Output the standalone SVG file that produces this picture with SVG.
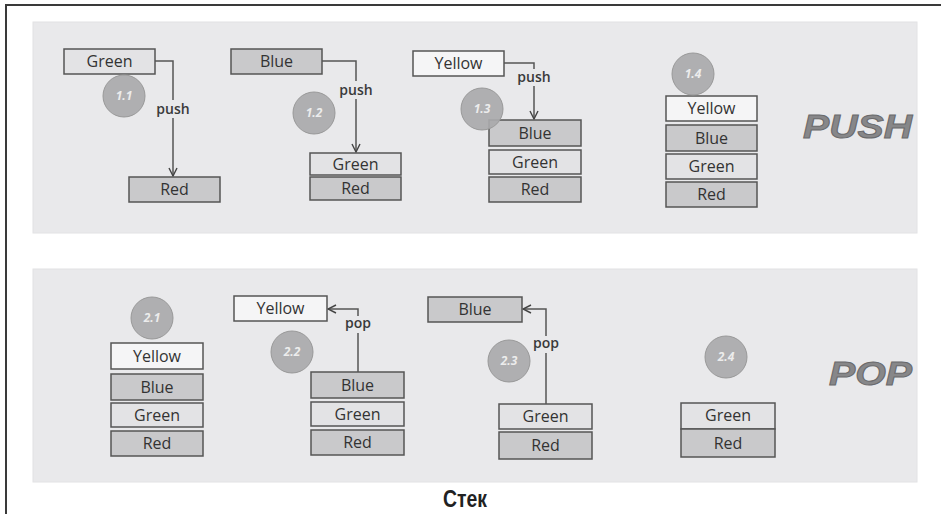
<svg xmlns="http://www.w3.org/2000/svg" width="941" height="514" viewBox="0 0 941 514">
  <defs>
    <marker id="vee" viewBox="0 0 10 10" refX="9" refY="5" markerWidth="10" markerHeight="10" markerUnits="userSpaceOnUse" orient="auto">
      <path d="M1,1 L9,5 L1,9" fill="none" stroke="#444" stroke-width="1.4"/>
    </marker>
  </defs>
  <style>
    .panel { fill: #e9e9eb; stroke: #e2e2e4; stroke-width: 1; }
    .box rect { stroke: #555; stroke-width: 1.5; }
    .box text { font-family: "Open Sans", "Noto Sans", sans-serif; font-size: 16px; fill: #333; text-anchor: middle; }
    .c-red rect, .c-blue rect { fill: #c9c9cb; }
    .c-green rect { fill: #e3e3e5; }
    .c-yellow rect { fill: #f5f5f6; }
    .badge circle { fill: #a9a9ab; stroke: #999; stroke-width: 1; fill-opacity: 0.92; }
    .badge text { font-family: "Open Sans", "Noto Sans", sans-serif; font-size: 12px; font-style: italic; font-weight: bold; fill: #ececec; text-anchor: middle; }
    .edge { fill: none; stroke: #555; stroke-width: 1.5; }
    .elabel { font-family: "Open Sans", "Noto Sans", sans-serif; font-size: 14px; font-weight: 600; fill: #3a3a3a; text-anchor: middle; }
    .lblbg { fill: #e9e9eb; }
    .big { font-family: "Liberation Sans", Arial, sans-serif; font-size: 34px; font-weight: bold; font-style: italic; fill: #878789; stroke: #6a6a6c; stroke-width: 1; }
  </style>

  <!-- frame -->
  <rect x="0" y="0" width="941" height="514" fill="#ffffff"/>
  <line x1="6" y1="5" x2="941" y2="5" stroke="#3a3a3a" stroke-width="2"/>
  <line x1="6" y1="4" x2="6" y2="514" stroke="#3a3a3a" stroke-width="2"/>

  <!-- panels -->
  <rect class="panel" x="33" y="22" width="884" height="211"/>
  <rect class="panel" x="33" y="269" width="884" height="213"/>

  <!-- connectors -->
  <g id="connectors">
    <path class="edge" d="M155,61 H173 V176" marker-end="url(#vee)"/>
    <rect class="lblbg" x="156" y="100" width="34" height="18"/>
    <text class="elabel" x="173" y="114">push</text>

    <path class="edge" d="M322,61 H356 V152" marker-end="url(#vee)"/>
    <rect class="lblbg" x="339" y="81" width="34" height="18"/>
    <text class="elabel" x="356" y="95">push</text>

    <path class="edge" d="M504,63 H534 V119" marker-end="url(#vee)"/>
    <rect class="lblbg" x="517" y="69" width="34" height="17"/>
    <text class="elabel" x="534" y="82">push</text>

    <path class="edge" d="M358,372 V309 H328" marker-end="url(#vee)"/>
    <rect class="lblbg" x="344" y="316" width="28" height="17"/>
    <text class="elabel" x="358" y="328">pop</text>

    <path class="edge" d="M546,404 V309 H523" marker-end="url(#vee)"/>
    <rect class="lblbg" x="532" y="336" width="28" height="17"/>
    <text class="elabel" x="546" y="348">pop</text>
  </g>

  <!-- step 1.1 -->
  <g id="n11-green" class="box c-green"><rect x="64" y="49" width="91" height="25"/><text x="109.5" y="67">Green</text></g>
  <g id="n11-red" class="box c-red"><rect x="129" y="177" width="91" height="25"/><text x="174.5" y="195">Red</text></g>
  <g id="b11" class="badge"><circle cx="124" cy="96" r="21"/><text x="124" y="100">1.1</text></g>

  <!-- step 1.2 -->
  <g id="n12-blue" class="box c-blue"><rect x="231" y="49" width="91" height="25"/><text x="276.5" y="67">Blue</text></g>
  <g id="n12-green" class="box c-green"><rect x="310" y="153" width="91" height="22"/><text x="355.5" y="170">Green</text></g>
  <g id="n12-red" class="box c-red"><rect x="310" y="177" width="91" height="23"/><text x="355.5" y="194">Red</text></g>
  <g id="b12" class="badge"><circle cx="314" cy="113" r="21"/><text x="314" y="117">1.2</text></g>

  <!-- step 1.3 -->
  <g id="n13-yellow" class="box c-yellow"><rect x="413" y="51" width="91" height="25"/><text x="458.5" y="69">Yellow</text></g>
  <g id="n13-blue" class="box c-blue"><rect x="489" y="120" width="92" height="26"/><text x="535" y="139">Blue</text></g>
  <g id="n13-green" class="box c-green"><rect x="489" y="150" width="92" height="24"/><text x="535" y="168">Green</text></g>
  <g id="n13-red" class="box c-red"><rect x="489" y="177" width="92" height="25"/><text x="535" y="195">Red</text></g>
  <g id="b13" class="badge"><circle cx="482" cy="109" r="21"/><text x="482" y="113">1.3</text></g>

  <!-- step 1.4 -->
  <g id="n14-yellow" class="box c-yellow"><rect x="666" y="96" width="91" height="25"/><text x="711.5" y="114">Yellow</text></g>
  <g id="n14-blue" class="box c-blue"><rect x="666" y="125" width="91" height="26"/><text x="711.5" y="144">Blue</text></g>
  <g id="n14-green" class="box c-green"><rect x="666" y="154" width="91" height="25"/><text x="711.5" y="172">Green</text></g>
  <g id="n14-red" class="box c-red"><rect x="666" y="182" width="91" height="25"/><text x="711.5" y="200">Red</text></g>
  <g id="b14" class="badge"><circle cx="693" cy="74" r="21"/><text x="693" y="78">1.4</text></g>

  <text class="big" x="803" y="138" textLength="109" lengthAdjust="spacingAndGlyphs">PUSH</text>

  <!-- step 2.1 -->
  <g id="n21-yellow" class="box c-yellow"><rect x="111" y="343" width="92" height="26"/><text x="157" y="362">Yellow</text></g>
  <g id="n21-blue" class="box c-blue"><rect x="111" y="374" width="92" height="26"/><text x="157" y="393">Blue</text></g>
  <g id="n21-green" class="box c-green"><rect x="111" y="403" width="92" height="24"/><text x="157" y="421">Green</text></g>
  <g id="n21-red" class="box c-red"><rect x="111" y="431" width="92" height="25"/><text x="157" y="449">Red</text></g>
  <g id="b21" class="badge"><circle cx="152" cy="318" r="21"/><text x="152" y="322">2.1</text></g>

  <!-- step 2.2 -->
  <g id="n22-yellow" class="box c-yellow"><rect x="234" y="296" width="93" height="25"/><text x="280.5" y="314">Yellow</text></g>
  <g id="n22-blue" class="box c-blue"><rect x="311" y="372" width="93" height="26"/><text x="357.5" y="391">Blue</text></g>
  <g id="n22-green" class="box c-green"><rect x="311" y="402" width="93" height="24"/><text x="357.5" y="420">Green</text></g>
  <g id="n22-red" class="box c-red"><rect x="311" y="430" width="93" height="25"/><text x="357.5" y="448">Red</text></g>
  <g id="b22" class="badge"><circle cx="292" cy="352" r="21"/><text x="292" y="356">2.2</text></g>

  <!-- step 2.3 -->
  <g id="n23-blue" class="box c-blue"><rect x="428" y="297" width="94" height="25"/><text x="475" y="315">Blue</text></g>
  <g id="n23-green" class="box c-green"><rect x="499" y="404" width="93" height="25"/><text x="545.5" y="422">Green</text></g>
  <g id="n23-red" class="box c-red"><rect x="499" y="432" width="93" height="27"/><text x="545.5" y="451">Red</text></g>
  <g id="b23" class="badge"><circle cx="509" cy="361" r="21"/><text x="509" y="365">2.3</text></g>

  <!-- step 2.4 -->
  <g id="n24-green" class="box c-green"><rect x="681" y="403" width="94" height="26"/><text x="728" y="421">Green</text></g>
  <g id="n24-red" class="box c-red"><rect x="681" y="429" width="94" height="28"/><text x="728" y="449">Red</text></g>
  <g id="b24" class="badge"><circle cx="726" cy="357" r="21"/><text x="726" y="361">2.4</text></g>

  <text class="big" x="829" y="385" textLength="83" lengthAdjust="spacingAndGlyphs">POP</text>

  <!-- caption -->
  <text x="465" y="507" font-family="'Liberation Sans', 'DejaVu Sans', sans-serif" font-size="23" font-weight="bold" fill="#222" text-anchor="middle" textLength="44" lengthAdjust="spacingAndGlyphs">Стек</text>
</svg>
